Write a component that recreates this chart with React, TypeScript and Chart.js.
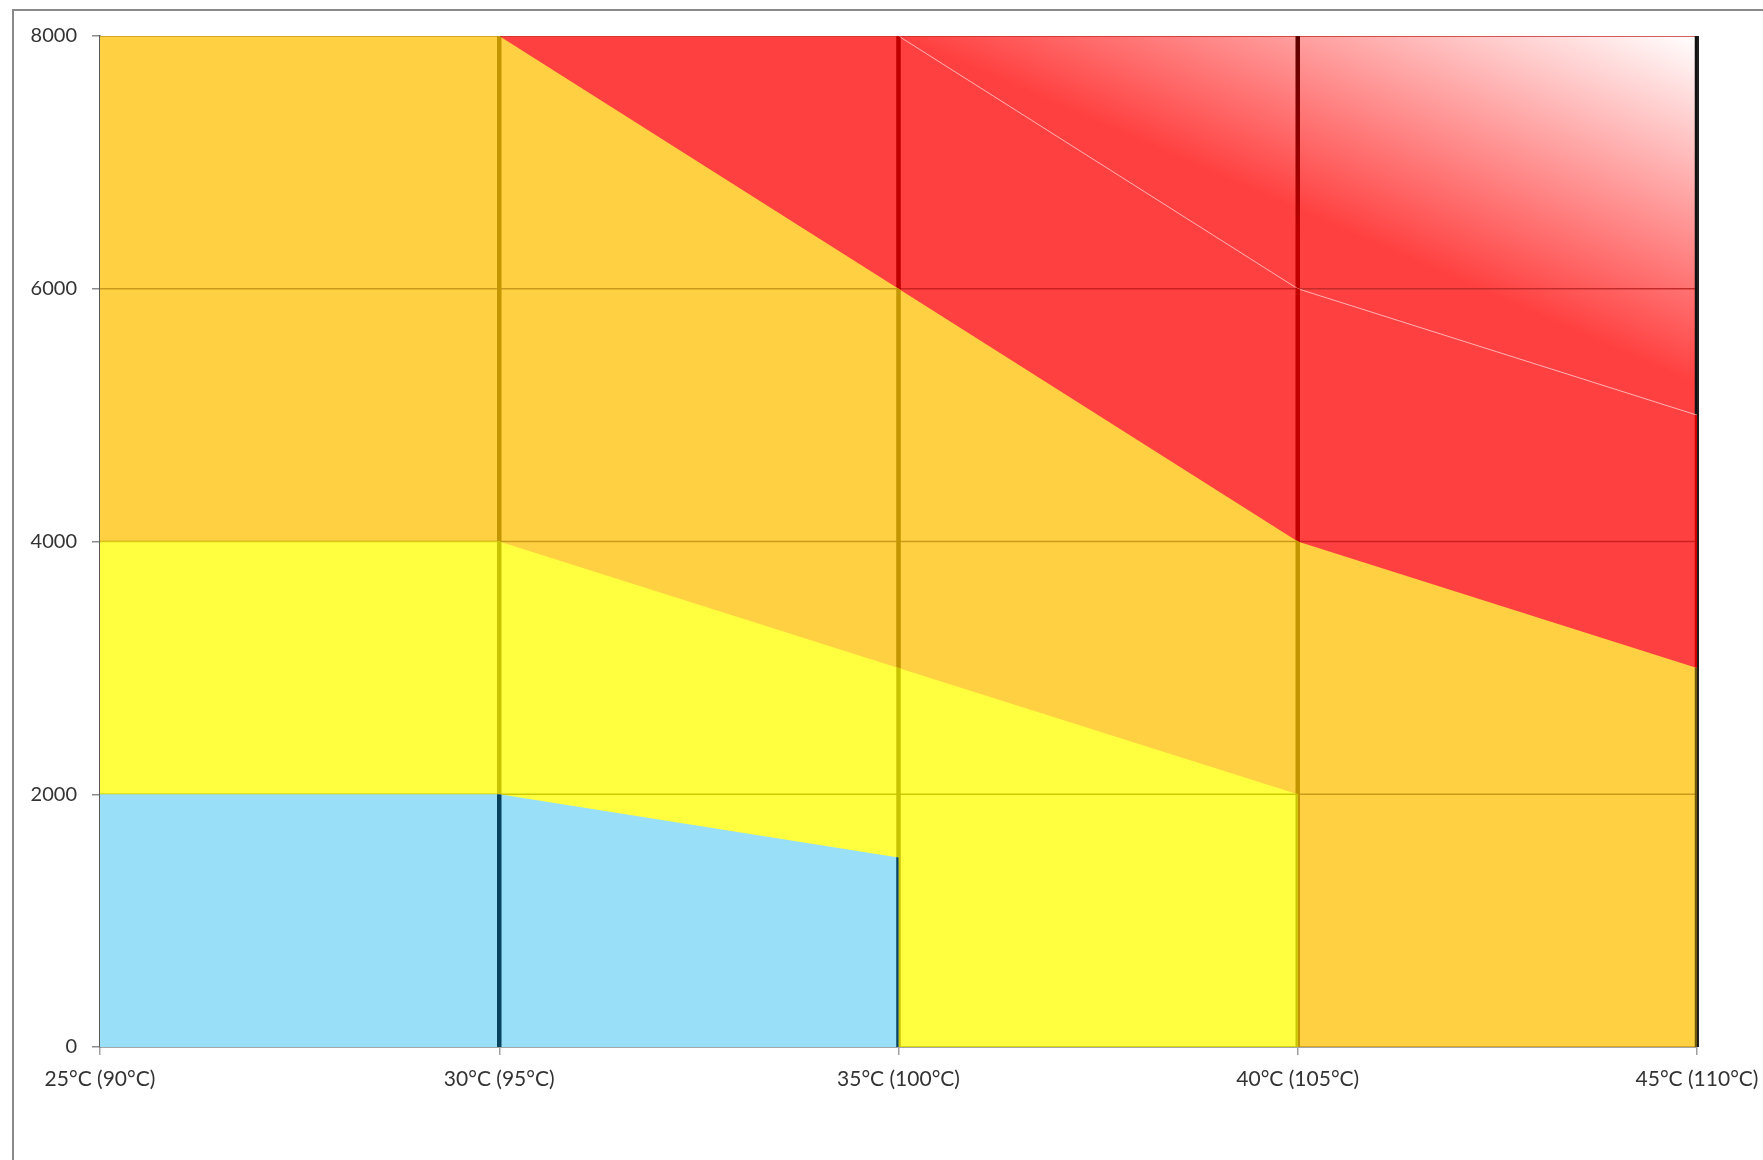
import { useEffect, useRef } from "react";
import { Chart, registerables } from "chart.js";

Chart.register(...registerables);

// Category axis: ambient temperature (with coolant temperature in brackets)
const temperatures = [25, 30, 35, 40, 45];
const temperatureLabels = [
  "25°C (90°C)",
  "30°C (95°C)",
  "35°C (100°C)",
  "40°C (105°C)",
  "45°C (110°C)",
];
const loadTicks = [0, 2000, 4000, 6000, 8000];

// Upper limit of each zone at every temperature (null = zone not present)
const safeZone = [2000, 2000, 1500, null, null];
const cautionZone = [4000, 4000, 3000, 2000, null];
const warningZone = [8000, 8000, 6000, 4000, 3000];
const dangerZone = [null, 8000, 8000, 6000, 5000];
const extremeZone = [null, null, 8000, 8000, 8000];

const zoneNames = ["Safe", "Caution", "Warning", "Danger", "Extreme"];
const zoneValues = [safeZone, cautionZone, warningZone, dangerZone, extremeZone];

// Fill, gridline and drop-line colours per zone (drop lines per temperature)
const zoneFill = ["#99DFF7", "#FFFF40", "#FFD041", "#FF4040", "gradient"];
const zoneGrid = [null, "#CCCA00", "#C99A1E", "#CC2020", "#C42C2C"];
const zoneDrops: (string | string[] | null)[][] = [
  [null, "#08435E", "#08435E", null, null],
  [null, "#C8C400", "#C8C400", "#C8C400", null],
  [null, "#C39500", "#C39500", "#C39500", "#6E5A0A"],
  [null, "#C00000", "#C00000", "#C00000", "#D00000"],
  [null, null, null, ["#5E0000", "#C00000"], "#111111"],
];

const FONT = "Lato, 'Noto Sans', sans-serif";

function extremeGradient(chart: Chart) {
  const a = chart.chartArea;
  if (!a) return "#FF4040";
  const w = a.right - a.left;
  const h = a.bottom - a.top;
  const g = chart.ctx.createLinearGradient(
    a.right - 0.08 * w,
    a.top + 0.289 * h,
    a.right,
    a.top
  );
  g.addColorStop(0, "#FF4040");
  g.addColorStop(1, "#FFFFFF");
  return g;
}

const zoneLines = {
  id: "zoneLines",
  beforeDraw(chart: Chart) {
    const { ctx, width, height } = chart;
    ctx.save();
    ctx.fillStyle = "#FFFFFF";
    ctx.fillRect(0, 0, width, height);
    ctx.strokeStyle = "#8A8A8A";
    ctx.lineWidth = 2;
    ctx.strokeRect(13, 10, width + 50, height + 50);
    ctx.restore();
  },
  afterDatasetDraw(chart: Chart, args: any) {
    const i = args.index;
    const pts = args.meta.data.filter((p: any) => !p.skip);
    if (!pts.length) return;
    const { ctx, chartArea: a } = chart;
    const x = chart.scales.x;
    const y = chart.scales.y;
    const base = y.getPixelForValue(0);
    ctx.save();
    ctx.beginPath();
    ctx.rect(a.left, a.top, a.right - a.left, a.bottom - a.top);
    ctx.clip();
    ctx.beginPath();
    pts.forEach((p: any, k: number) => (k ? ctx.lineTo(p.x, p.y) : ctx.moveTo(p.x, p.y)));
    ctx.lineTo(pts[pts.length - 1].x, base);
    ctx.lineTo(pts[0].x, base);
    ctx.closePath();
    ctx.clip();

    const grid = zoneGrid[i];
    if (grid) {
      ctx.strokeStyle = grid;
      ctx.lineWidth = 1.5;
      loadTicks.forEach((v) => {
        const py = y.getPixelForValue(v);
        ctx.beginPath();
        ctx.moveTo(a.left, py);
        ctx.lineTo(a.right, py);
        ctx.stroke();
      });
    }

    temperatures.forEach((t, k) => {
      const c = zoneDrops[i][k];
      if (!c) return;
      const px = x.getPixelForValue(t);
      if (Array.isArray(c)) {
        const g = ctx.createLinearGradient(0, a.top, 0, y.getPixelForValue(6400));
        g.addColorStop(0, c[0]);
        g.addColorStop(1, c[1]);
        ctx.strokeStyle = g;
      } else {
        ctx.strokeStyle = c;
      }
      ctx.lineWidth = 4.5;
      ctx.beginPath();
      ctx.moveTo(px, a.top);
      ctx.lineTo(px, a.bottom);
      ctx.stroke();
    });
    ctx.restore();
  },
  afterDatasetsDraw(chart: Chart) {
    const { ctx, chartArea: a } = chart;
    ctx.save();
    ctx.strokeStyle = "#1E1E1E";
    ctx.lineWidth = 2;
    ctx.beginPath();
    ctx.moveTo(a.right + 1, a.top);
    ctx.lineTo(a.right + 1, a.bottom);
    ctx.stroke();
    ctx.restore();
  },
};

export default function App() {
  const canvasRef = useRef<HTMLCanvasElement | null>(null);

  useEffect(() => {
    if (!canvasRef.current) return;
    const datasets = zoneValues.map((vals, i) => ({
      label: zoneNames[i],
      data: temperatures.map((t, k) => ({ x: t, y: vals[k] })),
      backgroundColor:
        zoneFill[i] === "gradient"
          ? (c: any) => extremeGradient(c.chart)
          : zoneFill[i],
      borderColor: i === 3 ? "rgba(255,185,185,0.95)" : "rgba(0,0,0,0)",
      borderWidth: i === 3 ? 1 : 0,
      fill: "origin",
      pointRadius: 0,
      tension: 0,
    }));

    const chart = new Chart(canvasRef.current, {
      type: "line",
      data: { datasets },
      plugins: [zoneLines],
      options: {
        responsive: false,
        animation: false,
        devicePixelRatio: 1,
        layout: { padding: { top: 36, right: 66, left: 0, bottom: 0 } },
        plugins: {
          legend: { display: false },
          tooltip: { enabled: false },
          title: { display: false },
        },
        scales: {
          x: {
            type: "linear",
            min: 25,
            max: 45,
            afterBuildTicks: (s: any) => {
              s.ticks = temperatures.map((v) => ({ value: v }));
            },
            afterFit: (s: any) => {
              s.height = 113;
              s.paddingLeft = 0;
              s.paddingRight = 0;
            },
            ticks: {
              autoSkip: false,
              maxRotation: 0,
              padding: 12,
              color: "#333333",
              font: { family: FONT, size: 21 },
              callback: (v: any) => temperatureLabels[temperatures.indexOf(Number(v))],
            },
            grid: {
              drawOnChartArea: false,
              drawTicks: true,
              tickLength: 8,
              color: "#A0A0A0",
              lineWidth: 1.5,
            },
            border: { color: "#A6A6A6", width: 2 },
          },
          y: {
            type: "linear",
            min: 0,
            max: 8000,
            afterBuildTicks: (s: any) => {
              s.ticks = loadTicks.map((v) => ({ value: v }));
            },
            afterFit: (s: any) => {
              s.width = 100;
              s.paddingTop = 0;
              s.paddingBottom = 0;
            },
            ticks: {
              padding: 15,
              color: "#333333",
              font: { family: FONT, size: 20 },
              callback: (v: any) => String(v),
            },
            grid: {
              drawOnChartArea: false,
              drawTicks: true,
              tickLength: 8,
              color: "#8C8C8C",
              lineWidth: 1.5,
            },
            border: { color: "#595959", width: 1.5 },
          },
        },
      },
    });
    return () => chart.destroy();
  }, []);

  return (
    <div
      style={{
        position: "fixed",
        left: 0,
        top: 0,
        width: 1763,
        height: 1160,
        background: "#FFFFFF",
      }}
    >
      <canvas
        ref={canvasRef}
        width={1763}
        height={1160}
        style={{ display: "block", width: 1763, height: 1160 }}
      />
    </div>
  );
}
